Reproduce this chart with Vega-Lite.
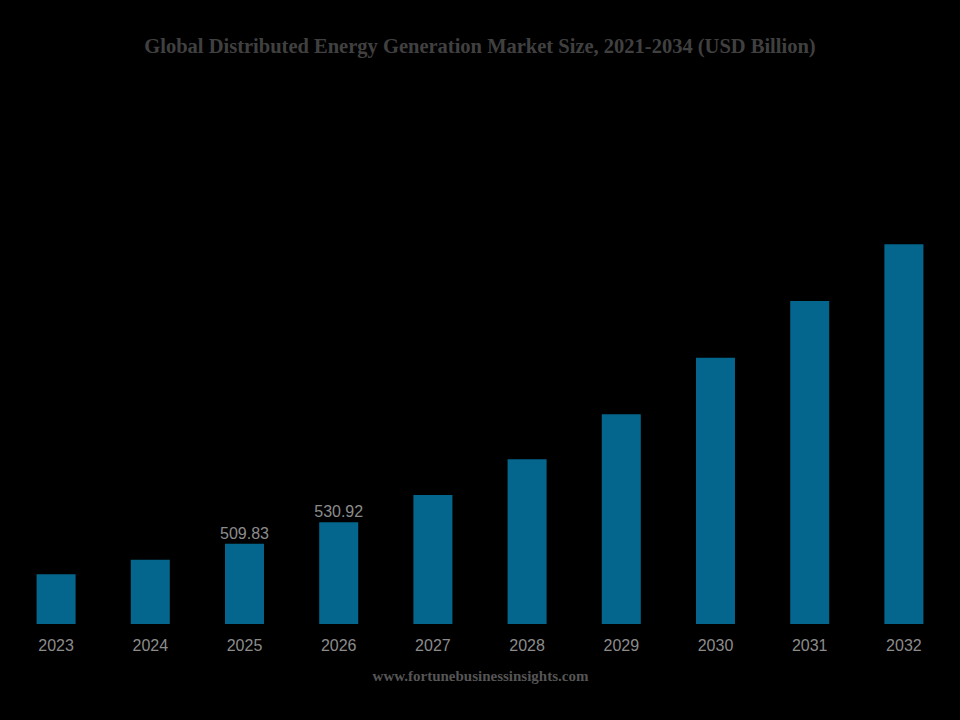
{
  "$schema": "https://vega.github.io/schema/vega-lite/v6.json",
  "autosize": {"type": "none"},
  "width": 942,
  "height": 544,
  "padding": {"left": 9, "top": 80, "right": 9, "bottom": 96},
  "background": "#000000",
  "config": {"view": {"stroke": null}},
  "title": {
    "text": "Global Distributed Energy Generation Market Size, 2021-2034 (USD Billion)",
    "font": "Liberation Serif",
    "fontSize": 20.5,
    "fontWeight": "bold",
    "color": "#404040",
    "anchor": "middle",
    "offset": 23
  },
  "data": {
    "values": [
      {"year": "2023", "size": 479.7},
      {"year": "2024", "size": 494.1},
      {"year": "2025", "size": 509.83},
      {"year": "2026", "size": 530.92},
      {"year": "2027", "size": 557.8},
      {"year": "2028", "size": 593.0},
      {"year": "2029", "size": 637.4},
      {"year": "2030", "size": 693.1},
      {"year": "2031", "size": 749.0},
      {"year": "2032", "size": 804.9}
    ]
  },
  "encoding": {
    "x": {
      "field": "year",
      "type": "ordinal",
      "sort": null,
      "scale": {"paddingInner": 0.586, "paddingOuter": 0.293},
      "axis": {
        "title": "www.fortunebusinessinsights.com",
        "titleFont": "Liberation Serif",
        "titleFontSize": 15,
        "titleFontWeight": "bold",
        "titleColor": "#555555",
        "titlePadding": 15,
        "labelAngle": 0,
        "labelFont": "Liberation Sans",
        "labelFontSize": 16,
        "labelColor": "#8c8c8c",
        "labelPadding": 13,
        "ticks": false,
        "domain": false,
        "grid": false
      }
    },
    "y": {
      "field": "size",
      "type": "quantitative",
      "scale": {"domain": [430.7, 966.8], "zero": false, "nice": false},
      "axis": null
    }
  },
  "layer": [
    {
      "mark": {"type": "bar", "color": "#04668C"},
      "encoding": {"y2": {"datum": 430.7}}
    },
    {
      "transform": [{"filter": "datum.year === '2025' || datum.year === '2026'"}],
      "mark": {
        "type": "text",
        "font": "Liberation Sans",
        "fontSize": 16,
        "color": "#8c8c8c",
        "baseline": "alphabetic",
        "dy": -5
      },
      "encoding": {"text": {"field": "size", "type": "quantitative", "format": ".2f"}}
    }
  ]
}
